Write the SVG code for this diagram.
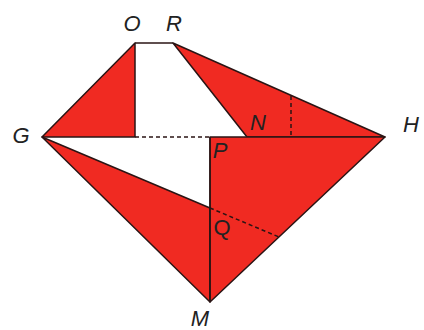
<svg xmlns="http://www.w3.org/2000/svg" width="424" height="330" viewBox="0 0 424 330">
<style>
.r{fill:#f02a22;stroke:#2a1414;stroke-width:1.5;stroke-linejoin:round}
.w{fill:#fff;stroke:none}
.l{fill:none;stroke:#2a1414;stroke-width:1.5}
.d{fill:none;stroke:#2a1414;stroke-width:1.5;stroke-dasharray:4 3}
text{font-family:"Liberation Sans",Arial,sans-serif;font-size:22px;font-style:italic;fill:#222;text-anchor:middle}
</style>
<g id="shapes">
<polygon class="w" points="135,43 173,43 247,137 135,137"/>
<polygon class="w" points="42,137 210,137 210,208"/>
<polygon class="r" points="42,137 135,43 135,137"/>
<polygon class="r" points="173,43 385,137 247,137"/>
<polygon class="r" points="42,137 210,208 210,302"/>
<polygon class="r" points="210,137 385,137 210,302"/>
</g>
<g id="connectors">
<line class="l" x1="135" y1="43" x2="173" y2="43"/>
<line class="d" x1="135" y1="137" x2="210" y2="137"/>
<line class="d" x1="291" y1="96" x2="291" y2="137"/>
<line class="d" x1="210" y1="208" x2="279" y2="237"/>
<line class="l" x1="210" y1="137" x2="210" y2="302"/>
</g>
<g id="labels">
<text x="132" y="31">O</text>
<text x="174" y="31">R</text>
<text x="21" y="143">G</text>
<text x="258" y="130">N</text>
<text x="220" y="158">P</text>
<text x="411" y="132">H</text>
<text x="222" y="235" style="font-style:normal">Q</text>
<text x="200" y="326">M</text>
</g>
</svg>
